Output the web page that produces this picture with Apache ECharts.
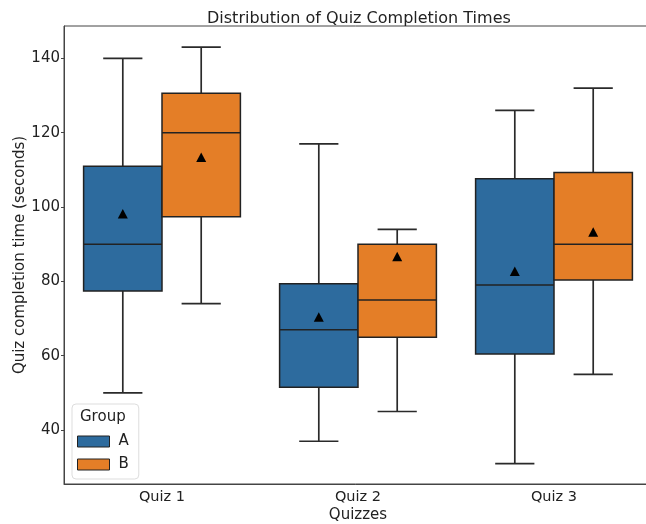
<!DOCTYPE html>
<html>
<head>
<meta charset="utf-8">
<script src="https://cdn.jsdelivr.net/npm/echarts@6/dist/echarts.min.js"></script>
<style>
  html, body { margin: 0; padding: 0; background: #fff; }
  #main { width: 646px; height: 524px; }
</style>
</head>
<body>
<div id="main"></div>
<script>
var quizzes = ['Quiz 1', 'Quiz 2', 'Quiz 3'];
var yTicks = [40, 60, 80, 100, 120, 140];

// group A
var aLow = [50, 37, 31];
var aQ1 = [77.4, 51.5, 60.5];
var aMedian = [90, 67, 79];
var aQ3 = [111, 79.4, 107.6];
var aHigh = [140, 117, 126];
var aMean = [98, 70.2, 82.5];

// group B
var bLow = [74, 45, 55];
var bQ1 = [97.4, 65, 80.4];
var bMedian = [120, 75, 90];
var bQ3 = [130.6, 90, 109.3];
var bHigh = [143, 94, 132];
var bMean = [113.2, 86.5, 93.1];

var font = 'DejaVu Sans';

function rows(low, q1, med, q3, high, mean) {
  return quizzes.map(function (q, i) {
    return [i, low[i], q1[i], med[i], q3[i], high[i], mean[i]];
  });
}

function boxRenderer(offset) {
  return function (params, api) {
    var cat = api.value(0);
    var band = api.size([1, 0])[0];
    var cx = api.coord([cat, 0])[0] + offset * band;
    var y = function (i) { return api.coord([cat, api.value(i)])[1]; };
    var half = band * 0.2, cap = band * 0.1;
    var lo = y(1), q1 = y(2), med = y(3), q3 = y(4), hi = y(5), mean = y(6);
    var ls = { stroke: '#2a2a2a', lineWidth: 1.7 };
    return {
      type: 'group',
      children: [
        { type: 'line', shape: { x1: cx, y1: q3, x2: cx, y2: hi }, style: ls },
        { type: 'line', shape: { x1: cx, y1: q1, x2: cx, y2: lo }, style: ls },
        { type: 'line', shape: { x1: cx - cap, y1: hi, x2: cx + cap, y2: hi }, style: ls },
        { type: 'line', shape: { x1: cx - cap, y1: lo, x2: cx + cap, y2: lo }, style: ls },
        {
          type: 'rect',
          shape: { x: cx - half, y: q3, width: half * 2, height: q1 - q3 },
          style: { fill: api.visual('color'), stroke: '#222', lineWidth: 1.5 }
        },
        { type: 'line', shape: { x1: cx - half, y1: med, x2: cx + half, y2: med }, style: { stroke: '#222', lineWidth: 1.5 } },
        {
          type: 'polygon',
          shape: { points: [[cx, mean - 5.5], [cx - 5, mean + 4], [cx + 5, mean + 4]] },
          style: { fill: '#000' }
        }
      ]
    };
  };
}

var chart = echarts.init(document.getElementById('main'));

var option = {
  animation: false,
  backgroundColor: '#fff',
  title: {
    text: 'Distribution of Quiz Completion Times',
    left: 202,
    top: 6,
    textStyle: { fontFamily: font, fontSize: 16, fontWeight: 'normal', color: '#222' }
  },
  legend: {
    orient: 'vertical',
    left: 72,
    top: 404,
    data: ['A', 'B'],
    icon: 'rect',
    itemWidth: 32,
    itemHeight: 11,
    itemGap: 8,
    padding: [30, 10, 7, 5],
    backgroundColor: '#fff',
    borderColor: '#ddd',
    borderWidth: 1,
    borderRadius: 4,
    itemStyle: { borderColor: '#222', borderWidth: 1 },
    textStyle: { fontFamily: font, fontSize: 15, color: '#222', padding: [0, 0, 0, 4] }
  },
  graphic: [{
    type: 'text',
    left: 80,
    top: 410,
    z: 100,
    style: { text: 'Group', font: '15px "DejaVu Sans"', fill: '#222' }
  }],
  grid: {
    left: 64,
    top: 26,
    width: 588,
    height: 458,
    outerBoundsMode: 'none',
    containLabel: false,
    show: true,
    borderColor: '#444',
    borderWidth: 1
  },
  xAxis: {
    type: 'category',
    data: quizzes,
    boundaryGap: true,
    name: 'Quizzes',
    nameLocation: 'middle',
    nameGap: 24,
    nameMoveOverlap: false,
    nameTextStyle: { fontFamily: font, fontSize: 15, color: '#222' },
    axisLine: { lineStyle: { color: '#444' } },
    axisTick: { alignWithLabel: true, length: 3, lineStyle: { color: '#444' } },
    axisLabel: { fontFamily: font, fontSize: 14.5, color: '#222', margin: 6 },
    splitLine: { show: false }
  },
  yAxis: {
    type: 'value',
    min: 25.5,
    max: 148.7,
    name: 'Quiz completion time (seconds)',
    nameLocation: 'middle',
    nameGap: 36,
    nameMoveOverlap: false,
    nameTextStyle: { fontFamily: font, fontSize: 15, color: '#222' },
    axisLine: { show: true, lineStyle: { color: '#444' } },
    axisTick: { show: true, length: 3, customValues: yTicks, lineStyle: { color: '#444' } },
    axisLabel: { fontFamily: font, fontSize: 15, color: '#222', margin: 4, customValues: yTicks },
    splitLine: { show: false }
  },
  series: [
    {
      name: 'A',
      type: 'custom',
      itemStyle: { color: '#2d6b9e' },
      encode: { x: 0, y: [1, 2, 3, 4, 5, 6] },
      renderItem: boxRenderer(-0.2),
      data: rows(aLow, aQ1, aMedian, aQ3, aHigh, aMean)
    },
    {
      name: 'B',
      type: 'custom',
      itemStyle: { color: '#e47e27' },
      encode: { x: 0, y: [1, 2, 3, 4, 5, 6] },
      renderItem: boxRenderer(0.2),
      data: rows(bLow, bQ1, bMedian, bQ3, bHigh, bMean)
    }
  ]
};

chart.setOption(option);
</script>
</body>
</html>
